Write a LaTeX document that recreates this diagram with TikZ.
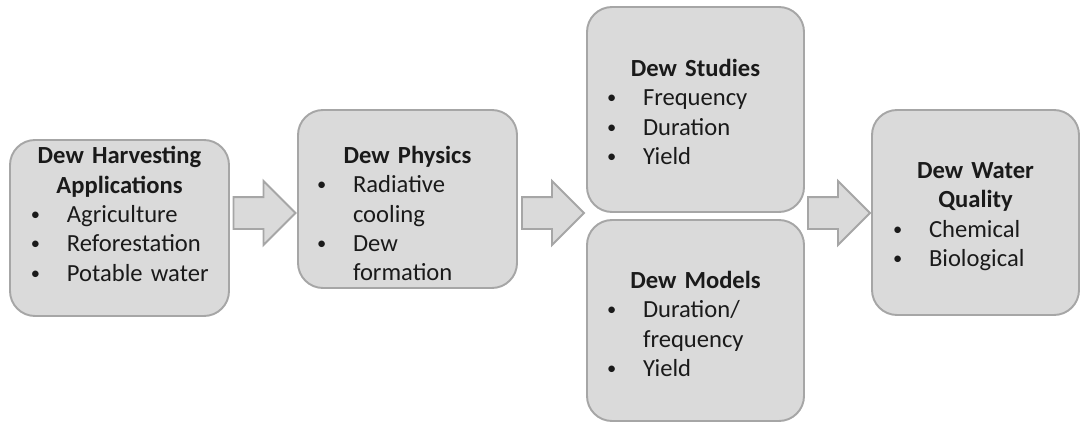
\documentclass[tikz,border=0pt]{standalone}
\usepackage{fontspec}
\usepackage{graphicx}
\setmainfont{Carlito}
\usetikzlibrary{positioning,calc,shapes.arrows}
\definecolor{boxfill}{HTML}{DADADA}
\definecolor{boxline}{HTML}{A6A6A6}
\definecolor{ink}{HTML}{1A1A1A}
% bullet line: [left offset]{text}
\newcommand{\bitem}[2][0.42cm]{\par\hangindent=\dimexpr#1+0.72cm\relax\hangafter=1\noindent\hspace*{#1}\makebox[0.72cm][l]{\raisebox{0.08em}{\scalebox{0.75}{\textbullet}}}#2}

\begin{document}
\begin{tikzpicture}[font=\fontsize{14}{16.7}\selectfont, text=ink]
  \tikzstyle{panel}=[draw=boxline, fill=boxfill, line width=1.1pt, rounded corners=0.5cm]
  \tikzstyle{paneltext}=[inner sep=0pt]
  \tikzstyle{blockarr}=[single arrow, draw=boxline, fill=boxfill, line width=1.1pt, minimum height=1.24cm, minimum width=1.24cm, inner xsep=0pt, inner ysep=0.3cm, single arrow head extend=0.32cm, xshift=-0.14cm]
  \useasboundingbox (0,0) rectangle (21.62,-8.46);

  \node[panel, minimum width=4.38cm, minimum height=3.52cm] (harvest) at (2.39,-4.56) {};
  \node[panel, minimum width=4.38cm, minimum height=3.56cm] (physics) at (8.15,-3.98) {};
  \node[panel, minimum width=4.34cm, minimum height=4.10cm] (studies) at (13.91,-2.19) {};
  \node[panel, minimum width=4.34cm, minimum height=4.02cm] (models) at (13.91,-6.41) {};
  \node[panel, minimum width=4.14cm, minimum height=4.10cm] (quality) at (19.51,-4.25) {};

  \node[paneltext, text width=4.38cm] (harvestText) at ($(harvest.center)+(0,0.28)$)
    {{\centering\bfseries Dew Harvesting\\Applications\par}\raggedright
     \bitem{Agriculture}\bitem{Reforestation}\bitem{Potable water}\par};
  \node[paneltext, text width=4.38cm] (physicsText) at ($(physics.center)+(0,-0.29)$)
    {{\centering\bfseries Dew Physics\par}\raggedright
     \bitem[0.38cm]{Radiative\newline cooling}\bitem[0.38cm]{Dew\newline formation}\par};
  \node[paneltext, text width=4.34cm] (studiesText) at ($(studies.center)+(0,-0.05)$)
    {{\centering\bfseries Dew Studies\par}\raggedright
     \bitem[0.4cm]{Frequency}\bitem[0.4cm]{Duration}\bitem[0.4cm]{Yield}\par};
  \node[paneltext, text width=4.34cm] (modelsText) at ($(models.center)+(0,-0.07)$)
    {{\centering\bfseries Dew Models\par}\raggedright
     \bitem[0.4cm]{Duration/\newline frequency}\bitem[0.4cm]{Yield}\par};
  \node[paneltext, text width=4.14cm] (qualityText) at ($(quality.center)+(0,-0.08)$)
    {{\centering\bfseries Dew Water\\Quality\par}\raggedright
     \bitem{Chemical}\bitem{Biological}\par};

  \coordinate (axis) at (0,-4.26);
  \node[blockarr] (ar1) at ($(harvest.east |- axis)!0.5!(physics.west |- axis)$) {};
  \node[blockarr] (ar2) at ($(physics.east |- axis)!0.5!(studies.west |- axis)$) {};
  \node[blockarr] (ar3) at ($(studies.east |- axis)!0.5!(quality.west |- axis)$) {};
\end{tikzpicture}
\end{document}
